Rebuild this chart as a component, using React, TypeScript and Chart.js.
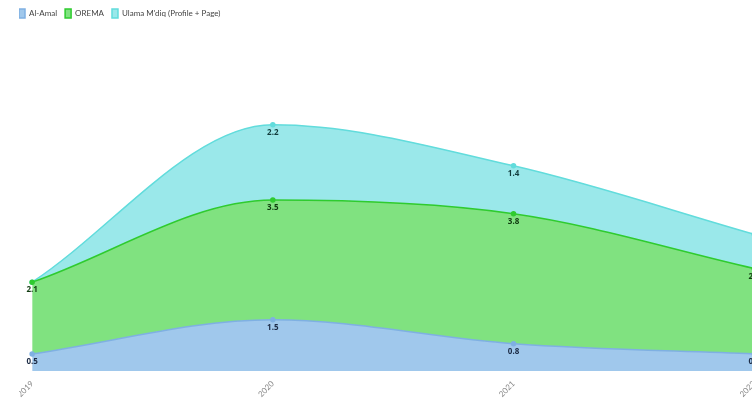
import React, { useEffect, useRef } from "react";
import { Chart, registerables } from "chart.js";

Chart.register(...registerables);

const categories = ["2019", "2020", "2021", "2022"];
const alAmal = [0.5, 1.5, 0.8, 0.5];
const orema = [2.1, 3.5, 3.8, 2.5];
const ulama = [0, 2.2, 1.4, 1.0];

const labelPlugin = {
  id: "valueLabels",
  afterDatasetsDraw(chart: any) {
    const ctx = chart.ctx;
    const colors = ["#1c2b45", "#0f3a0f", "#123c3c"];
    chart.data.datasets.forEach((ds: any, i: number) => {
      const meta = chart.getDatasetMeta(i);
      meta.data.forEach((pt: any, j: number) => {
        const v = ds.data[j];
        if (!v) return;
        ctx.save();
        ctx.font = "bold 8px 'Open Sans', sans-serif";
        ctx.fillStyle = colors[i];
        ctx.textAlign = "center";
        ctx.textBaseline = "middle";
        ctx.fillText(String(v), pt.x, pt.y + 8);
        ctx.restore();
      });
    });
  },
};

const legendShift = {
  id: "legendShift",
  afterLayout(chart: any) {
    const lg = chart.legend;
    if (!lg) return;
    lg.left -= 8;
    lg.right -= 8;
    lg.top -= 1;
    lg.bottom -= 1;
  },
};

export default function App() {
  const ref = useRef<HTMLCanvasElement>(null);
  useEffect(() => {
    if (!ref.current) return;
    const chart = new Chart(ref.current, {
      type: "line",
      data: {
        labels: categories,
        datasets: [
          {
            label: "Al-Amal",
            data: alAmal,
            borderColor: "#7fb0e2",
            backgroundColor: "rgba(160,200,236,1)",
            pointBackgroundColor: "#7fb0e2",
            fill: "origin",
            borderWidth: 1.5,
          },
          {
            label: "OREMA",
            data: orema,
            borderColor: "#2fcb2f",
            backgroundColor: "rgba(128,226,128,1)",
            pointBackgroundColor: "#2fcb2f",
            fill: "-1",
            borderWidth: 1.5,
          },
          {
            label: "Ulama M'diq (Profile + Page)",
            data: ulama,
            borderColor: "#62dcdc",
            backgroundColor: "rgba(154,232,234,1)",
            pointBackgroundColor: "#62dcdc",
            fill: "-1",
            borderWidth: 1.5,
          },
        ],
      },
      options: {
        animation: false,
        responsive: true,
        maintainAspectRatio: false,
        layout: { padding: { left: 0, right: 0, top: 2, bottom: 0 } },
        elements: {
          line: { cubicInterpolationMode: "monotone" },
          point: { radius: 2, borderWidth: 0, hoverRadius: 2 },
        },
        plugins: {
          legend: {
            position: "top",
            align: "start",
            labels: {
              boxWidth: 6,
              boxHeight: 9,
              padding: 8,
              color: "#444",
              font: { size: 8, family: "Lato, sans-serif" },
            },
          },
          tooltip: { enabled: false },
        },
        scales: {
          x: {
            offset: false,
            grid: { display: false },
            border: { display: false },
            ticks: {
              padding: 0,
              minRotation: 45,
              maxRotation: 45,
              color: "#888",
              font: { size: 8, family: "Lato, sans-serif" },
            },
          },
          y: {
            display: false,
            stacked: true,
            min: 0,
            max: 10,
          },
        },
      },
      plugins: [labelPlugin, legendShift],
    });
    return () => chart.destroy();
  }, []);
  return (
    <div style={{ position: "absolute", left: 0, top: 0, width: 752, height: 399, overflow: "hidden" }}>
      <div style={{ position: "absolute", left: 19, top: 0, width: 742, height: 399 }}>
        <canvas ref={ref} />
      </div>
    </div>
  );
}
